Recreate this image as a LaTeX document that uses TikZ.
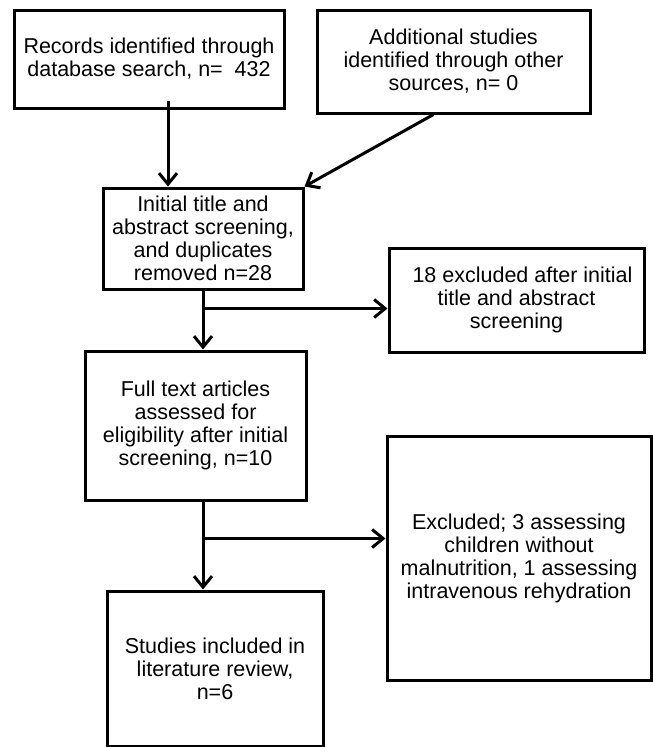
\documentclass[tikz,border=0pt]{standalone}
\usepackage{fontspec}
\setmainfont{Liberation Sans}
\usepackage{tikz}
\usetikzlibrary{arrows.meta,positioning}

\begin{document}
\begin{tikzpicture}[x=1pt,y=-1pt,
		box/.style={draw,line width=3pt,inner sep=0pt,align=center,font=\fontsize{21.5}{23}\selectfont},
		flowarrow/.style={line width=3pt,-{Straight Barb[length=11pt,width=18pt,line width=3pt]}}]
		\useasboundingbox (0,0) rectangle (653,747);
		\node[box,minimum width=270pt,minimum height=98pt] (rec) at (149,59) {Records identified through\\database search, n=\ \ 432};
		\node[box,minimum width=273pt,minimum height=103pt] (other) at (453.5,61.5) {Additional studies\\identified through other\\sources, n= 0};
		\node[box,minimum width=200pt,minimum height=101pt] (init) at (203,238.5) {Initial title and\\abstract screening,\\and duplicates\\removed n=28};
		\node[box,minimum width=255pt,minimum height=104pt] (excl1) at (516.5,300) {\ \ 18 excluded after initial\\title and abstract\\screening};
		\node[box,minimum width=221pt,minimum height=149pt] (full) at (195.5,425.5) {Full text articles\\assessed for\\eligibility after initial\\screening, n=10};
		\node[box,minimum width=264pt,minimum height=244pt] (excl2) at (519,558) {Excluded; 3 assessing\\children without\\malnutrition, 1 assessing\\intravenous rehydration};
		\node[box,minimum width=216pt,minimum height=155pt] (incl) at (215,668.5) {Studies included in\\literature review,\\n=6};
		% connectors
		\coordinate (drop) at (init.south |- full.south);
		\coordinate (fork1) at ([yshift=-18pt]init.south);
		\coordinate (fork2) at ([yshift=-37pt]drop);
		\draw[flowarrow] ([xshift=19pt,yshift=9pt]rec.south) -- ([xshift=19pt]rec.south |- init.north);
		\draw[flowarrow] ([xshift=-20pt]other.south) -- (init.north east);
		\draw[flowarrow] (init.south) -- (init.south |- full.north);
		\draw[flowarrow] (fork1) -- (fork1 -| excl1.west);
		\draw[flowarrow] (drop) -- (drop |- incl.north);
		\draw[flowarrow] (fork2) -- (fork2 -| excl2.west);
	\end{tikzpicture}
\end{document}
